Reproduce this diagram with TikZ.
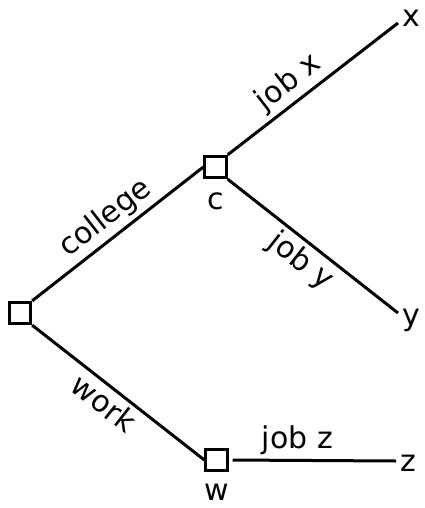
\documentclass[tikz,border=0pt]{standalone}
\usepackage{fontspec}
\setmainfont{DejaVu Sans}
\usepackage{tikz}
\usetikzlibrary{positioning}
\tikzstyle{edge} = [draw, line width=0.09cm]
\tikzstyle{choice} = [draw, line width=0.09cm, rectangle, minimum size=0.64cm, inner sep=0pt]
\tikzstyle{lbl} = [font=\fontsize{25.6pt}{30pt}\selectfont]

\begin{document}
\begin{tikzpicture}[x=0.03cm,y=-0.03cm]
    \useasboundingbox (0,0) rectangle (425,508);
    \node[choice] (root) at (20,313) {};
    \node[choice] (c) at (215.5,167) {};
    \node[choice] (w) at (216.5,460) {};
    \coordinate (xend) at (398,23);
    \coordinate (yend) at (398,313);
    \coordinate (zend) at (396,461);
    \node[lbl,below=0.27cm of c] (clab) {c};
    \node[lbl,below=0.24cm of w] (wlab) {w};
    \draw[edge] (root.north east) -- node[lbl,above,sloped] (collegelab) {college} (c.west);
    \draw[edge] (root.south east) -- node[lbl,below,sloped,pos=0.48] (worklab) {work} (w.west);
    \draw[edge] (c.north east) -- node[lbl,above,sloped,pos=0.43] (jobxlab) {job x} (xend);
    \draw[edge] (c.south east) -- node[lbl,below,sloped] (jobylab) {job y} (yend);
    \draw[edge,shorten <=0.12cm] (w.east) -- node[lbl,above,pos=0.41] (jobzlab) {job z} (zend);
    \node[lbl,right=0cm of xend,yshift=0.135cm] (xlab) {x};
    \node[lbl,right=0cm of yend,yshift=-0.21cm] (ylab) {y};
    \node[lbl,right=0cm of zend,yshift=-0.075cm] (zlab) {z};
  \end{tikzpicture}
\end{document}
